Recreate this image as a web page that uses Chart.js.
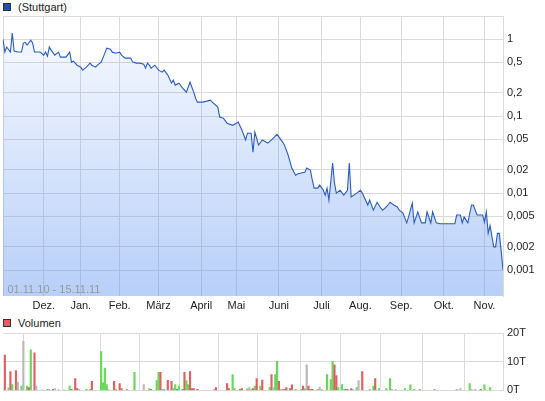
<!DOCTYPE html>
<html>
<head>
<meta charset="utf-8">
<script src="https://cdn.jsdelivr.net/npm/chart.js@4/dist/chart.umd.min.js"></script>
<style>
  body { margin: 0; width: 545px; height: 401px; background: #fff; position: relative; overflow: hidden;
         font-family: 'Liberation Sans', Arial, sans-serif; }
  canvas { position: absolute; left: 0; }
  .leg { position: absolute; left: 0; height: 14px; line-height: 14px; font-size: 11px; color: #222; }
  .leg span { position: absolute; left: 3px; top: 3px; width: 6px; height: 6px; border: 1px solid #333; }
  .leg b { position: absolute; left: 18px; top: 0; font-weight: normal; white-space: nowrap; }
</style>
</head>
<body>
<div class="leg" style="top:0px"><span style="background:#1f4fb5"></span><b>(Stuttgart)</b></div>
<div class="leg" style="top:316px"><span style="background:#e06060"></span><b>Volumen</b></div>
<canvas id="price" width="545" height="315" style="top:0"></canvas>
<canvas id="vol" width="545" height="86" style="top:315px"></canvas>
<script>
// x = trading day since 01.11.10
const rangeLabel = '01.11.10 - 15.11.11';
const monthDay = [0, 22, 42, 63, 84, 107, 126, 149, 172, 193, 215, 238, 260];
const monthLabel = ['', 'Dez.', 'Jan.', 'Feb.', 'März', 'April', 'Mai', 'Juni', 'Juli', 'Aug.', 'Sep.', 'Okt.', 'Nov.'];

const priceTicks = [0.001, 0.002, 0.005, 0.01, 0.02, 0.05, 0.1, 0.2, 0.5, 1, 2];
const priceTickLabels = ['0,001', '0,002', '0,005', '0,01', '0,02', '0,05', '0,1', '0,2', '0,5', '1', ''];

const priceDay = [0,1,2,4,5,6,8,10,11,12,
  13,15,16,17,20,22,23,24,25,26,
  28,30,31,34,36,37,38,40,42,43,
  45,46,47,48,50,51,53,55,56,58,
  59,61,63,64,66,69,70,72,74,76,
  77,78,79,80,82,84,86,87,89,91,
  92,93,95,97,99,101,103,104,105,108,
  112,113,116,117,119,121,124,126,127,129,
  131,132,134,135,136,138,140,143,145,148,
  151,152,154,156,158,159,161,163,164,166,
  167,168,170,171,173,174,175,176,178,179,
  180,182,184,186,187,188,191,193,194,197,
  198,200,202,204,205,207,209,211,213,214,
  216,218,219,221,222,224,226,228,229,231,
  232,234,236,244,245,247,248,249,251,253,
  254,256,259,260,261,262,263,265,266,267,
  268,269,270];
const price = [1.0,0.68,0.79,0.68,1.2,0.70,0.68,0.68,0.89,0.91,
  0.84,0.97,0.89,0.68,0.68,0.62,0.68,0.60,0.79,0.72,
  0.62,0.68,0.584,0.584,0.68,0.503,0.518,0.459,0.433,0.396,
  0.433,0.459,0.488,0.459,0.433,0.459,0.503,0.658,0.764,0.742,
  0.678,0.658,0.678,0.62,0.567,0.567,0.503,0.488,0.488,0.473,
  0.42,0.488,0.459,0.42,0.459,0.396,0.373,0.396,0.341,0.268,
  0.294,0.253,0.268,0.231,0.205,0.276,0.205,0.171,0.152,0.152,
  0.161,0.152,0.131,0.097,0.094,0.081,0.076,0.081,0.084,0.066,
  0.049,0.060,0.060,0.034,0.062,0.042,0.049,0.0446,0.049,0.058,
  0.046,0.042,0.031,0.021,0.0171,0.0177,0.0182,0.0187,0.0211,0.0199,
  0.0148,0.0116,0.0116,0.0127,0.0109,0.0094,0.0116,0.0081,0.0245,0.0135,
  0.0100,0.0109,0.0094,0.0109,0.0245,0.0089,0.0100,0.0109,0.0100,0.0070,
  0.0081,0.0060,0.0076,0.0064,0.0060,0.0066,0.0076,0.0070,0.0066,0.0060,
  0.0055,0.0041,0.0049,0.0074,0.0041,0.0057,0.0041,0.0041,0.0057,0.0041,
  0.0057,0.0041,0.004,0.004,0.0052,0.0052,0.0041,0.0049,0.0041,0.0070,
  0.0070,0.0052,0.0052,0.0042,0.0057,0.0030,0.0038,0.0020,0.0020,0.0030,
  0.0030,0.0018,0.0010];

// volume in thousands, u = up, d = down, n = unchanged
const volDay = [1,3,4,5,7,8,10,11,13,14,
  15,17,18,21,24,25,27,28,30,33,
  36,37,39,40,41,45,47,48,53,54,
  55,56,57,60,61,63,64,67,71,76,
  79,80,83,84,85,86,87,89,91,92,
  93,94,95,97,98,99,100,101,102,103,
  105,114,115,121,122,124,125,128,129,132,
  133,134,135,136,137,139,140,144,145,146,
  147,148,149,150,151,152,153,155,156,158,
  161,162,163,164,165,166,167,170,171,172,
  175,177,178,179,180,181,183,184,185,186,
  188,189,191,192,194,198,200,201,203,207,
  209,210,212,217,220,222,225,233,245,247,
  252,253,255,258,260,263];
const volumeT = [12.3,0.9,6.6,2.0,6.9,2.9,1.5,17.1,1.5,1.0,
  14.1,13.1,1.5,0.2,0.4,0.4,0.4,0.6,0.2,0.1,
  1.5,0.4,4.1,0.6,0.4,0.4,0.4,3.2,13.5,2.6,
  7.8,2.0,0.2,3.2,0.4,2.4,0.6,0.4,6.3,2.0,
  0.6,0.4,3.4,6.3,6.3,0.4,0.4,3.5,3.2,0.6,
  2.0,0.4,1.5,0.4,6.3,3.4,2.0,6.6,0.6,0.6,
  0.4,0.4,1.0,2.4,0.6,5.5,0.6,0.4,0.6,0.6,
  1.0,0.4,0.6,1.5,4.1,1.5,3.6,1.0,5.5,1.0,
  5.5,10.1,3.2,0.4,0.4,0.4,1.0,0.6,1.9,0.4,
  0.4,1.5,0.6,8.9,1.5,0.4,0.4,0.4,1.2,0.4,
  5.5,3.8,10.1,8.9,5.2,1.0,2.0,0.4,0.4,0.4,
  0.6,0.4,1.0,3.4,6.6,0.4,1.5,4.1,0.6,0.6,
  4.1,0.4,0.4,0.6,1.9,0.4,0.4,0.4,0.4,0.6,
  2.4,0.4,0.4,0.4,1.9,1.0];
const volDir = ['d','n','d','u','d','n','u','n','u','d',
  'u','d','n','n','u','n','d','n','u','n',
  'u','d','d','d','n','u','u','d','u','u',
  'u','u','d','d','u','d','d','u','u','n',
  'u','d','u','u','d','u','u','d','d','u',
  'u','d','u','d','d','u','u','d','d','d',
  'd','n','d','d','d','u','u','d','d','u',
  'n','n','d','u','d','u','d','u','d','n',
  'u','u','d','n','u','d','d','d','d','u',
  'u','d','u','n','d','d','d','u','n','n',
  'u','u','u','d','d','u','u','n','d','d',
  'd','n','u','n','d','u','u','d','u','u',
  'u','n','n','u','u','u','u','u','n','n',
  'u','n','n','d','u','u'];
const volTicks = [0, 10, 20];

const dirColor = { u: '#66d85a', d: '#e06060', n: '#b8b8b8' };
const gridColor = '#dadada';

Chart.defaults.font.family = "'Liberation Sans', Arial, sans-serif";
Chart.defaults.font.size = 11;
Chart.defaults.color = '#222';

const rangeText = {
  id: 'rangeText',
  afterDatasetsDraw(chart) {
    const ctx = chart.ctx, a = chart.chartArea;
    ctx.save();
    ctx.font = "11px 'Liberation Sans', Arial, sans-serif";
    ctx.fillStyle = '#999';
    ctx.textBaseline = 'middle';
    ctx.fillText(rangeLabel, a.left + 4.5, a.bottom - 6);
    ctx.restore();
  }
};

function xScale(showLabels, h) {
  return {
    type: 'linear', min: 0, max: 270, offset: false,
    afterBuildTicks: s => { s.ticks = monthDay.map(v => ({ value: v })); },
    afterFit: s => { s.height = h; },
    ticks: { display: showLabels, autoSkip: false, maxRotation: 0, padding: 3,
             callback: (v, i) => monthLabel[i] },
    grid: { color: gridColor, drawTicks: false },
    border: { display: false }
  };
}

new Chart(document.getElementById('price'), {
  type: 'line',
  data: {
    datasets: [{
      data: priceDay.map((d, i) => ({ x: d, y: price[i] })),
      borderColor: '#2a5cc0',
      borderWidth: 1.1,
      pointRadius: 0,
      tension: 0,
      fill: 'start',
      backgroundColor: function(context) {
        const a = context.chart.chartArea;
        if (!a) return 'rgba(100,150,240,0.2)';
        const g = context.chart.ctx.createLinearGradient(0, a.top, 0, a.bottom);
        g.addColorStop(0, 'rgba(100,150,240,0.04)');
        g.addColorStop(1, 'rgba(100,150,240,0.46)');
        return g;
      }
    }]
  },
  options: {
    responsive: false,
    animation: false,
    layout: { padding: { left: 3, top: 16, right: 0, bottom: 0 } },
    plugins: { legend: { display: false }, tooltip: { enabled: false } },
    scales: {
      x: xScale(true, 19),
      y: {
        type: 'logarithmic', position: 'right', min: 0.00046, max: 2,
        afterBuildTicks: s => { s.ticks = priceTicks.map(v => ({ value: v })); },
        afterFit: s => { s.width = 42; },
        ticks: { autoSkip: false, padding: 4, callback: (v, i) => priceTickLabels[i] },
        grid: { color: gridColor, drawTicks: false },
        border: { color: gridColor }
      }
    }
  },
  plugins: [rangeText]
});

new Chart(document.getElementById('vol'), {
  type: 'bar',
  data: {
    datasets: [{
      data: volDay.map((d, i) => ({ x: d, y: volumeT[i] })),
      backgroundColor: volDir.map(c => dirColor[c]),
      barThickness: 1.5,
      borderWidth: 0
    }]
  },
  options: {
    responsive: false,
    animation: false,
    layout: { padding: { left: 3, top: 18, right: 0, bottom: 0 } },
    plugins: { legend: { display: false }, tooltip: { enabled: false } },
    scales: {
      x: xScale(false, 10),
      y: {
        position: 'right', min: 0, max: 20,
        afterBuildTicks: s => { s.ticks = volTicks.map(v => ({ value: v })); },
        afterFit: s => { s.width = 42; },
        ticks: { padding: 4, callback: v => v + 'T' },
        grid: { color: gridColor, drawTicks: false },
        border: { color: gridColor }
      }
    }
  }
});
</script>
</body>
</html>
